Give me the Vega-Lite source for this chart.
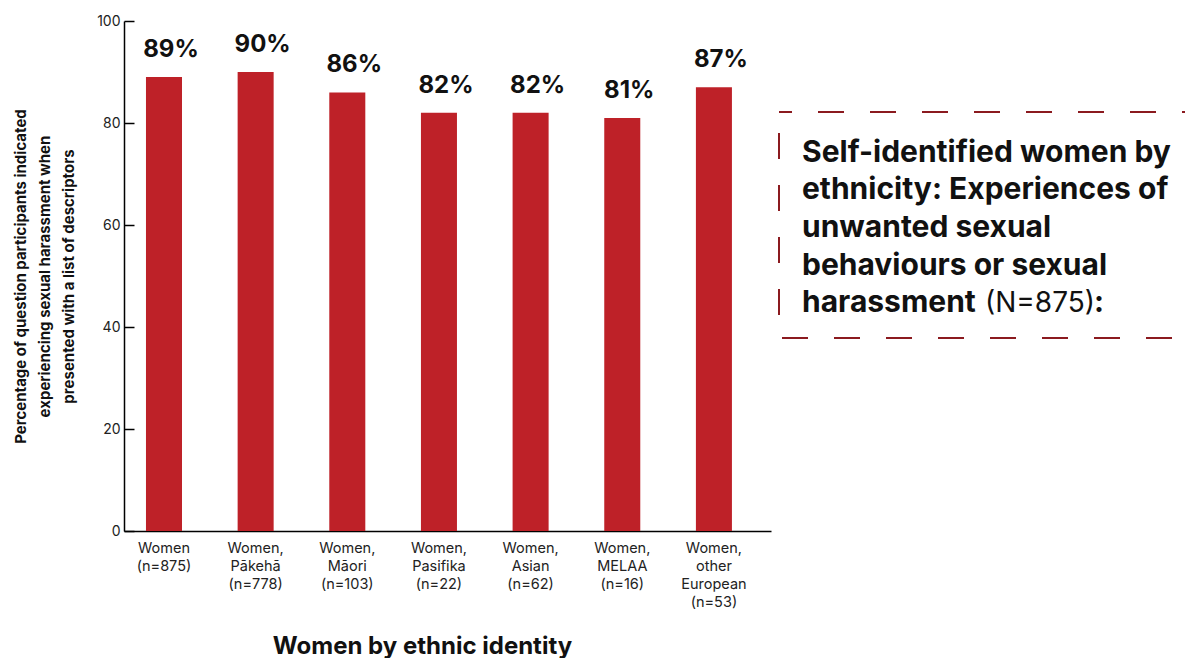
{
  "$schema": "https://vega.github.io/schema/vega-lite/v6.json",
  "padding": {"left": 13, "top": 14, "right": 0, "bottom": 0},
  "background": "white",
  "config": {
    "font": "Inter",
    "view": {"stroke": null},
    "concat": {"spacing": 7},
    "axis": {"domainColor": "#000", "domainWidth": 1.5, "tickColor": "#000", "tickWidth": 1.5, "labelColor": "#222", "titleColor": "#111", "grid": false}
  },
  "hconcat": [
    {
      "width": 647,
      "height": 510,
      "data": {"values": [
        {"group": "Women|(n=875)", "pct": 89},
        {"group": "Women,|Pākehā|(n=778)", "pct": 90},
        {"group": "Women,|Māori|(n=103)", "pct": 86},
        {"group": "Women,|Pasifika|(n=22)", "pct": 82},
        {"group": "Women,|Asian|(n=62)", "pct": 82},
        {"group": "Women,|MELAA|(n=16)", "pct": 81},
        {"group": "Women,|other|European|(n=53)", "pct": 87}
      ]},
      "transform": [{"calculate": "datum.pct + '%'", "as": "pct_label"}],
      "encoding": {
        "x": {
          "field": "group", "type": "nominal", "sort": null,
          "scale": {"paddingInner": 0.607, "paddingOuter": 0.333, "align": 0.36},
          "axis": {
            "title": "Women by ethnic identity",
            "titleFontSize": 24, "titleFontWeight": "bold", "titlePadding": 26,
            "titleX": 298, "titleAlign": "center",
            "labelExpr": "split(datum.label, '|')",
            "labelAngle": 0, "labelFontSize": 14.5, "labelLineHeight": 18,
            "labelPadding": 10, "ticks": false
          }
        },
        "y": {
          "field": "pct", "type": "quantitative",
          "scale": {"domain": [0, 100]},
          "axis": {
            "values": [0, 20, 40, 60, 80, 100],
            "title": ["Percentage of question participants indicated", "experiencing sexual harassment when", "presented with a list of descriptors"],
            "titleFontSize": 15, "titleFontWeight": "bold", "titleLineHeight": 24, "titlePadding": 20,
            "labelFontSize": 14, "tickSize": -10, "labelPadding": 14
          }
        }
      },
      "layer": [
        {"mark": {"type": "bar", "color": "#BE2128"}},
        {
          "mark": {"type": "text", "baseline": "alphabetic", "dy": -20, "dx": 7, "fontSize": 24, "fontWeight": "bold", "color": "#111"},
          "encoding": {"text": {"field": "pct_label"}}
        }
      ]
    },
    {
      "spacing": 10,
      "vconcat": [
        {
          "width": 415,
          "height": 80,
          "data": {"values": [{"blank": ""}]},
          "mark": {"type": "text"},
          "encoding": {"text": {"field": "blank"}}
        },
        {
          "width": 415,
          "height": 226,
          "view": {"stroke": "#8B1A1F", "strokeWidth": 2, "strokeDash": [26, 26], "strokeDashOffset": 13},
          "data": {"values": [
            {"line": 1, "text": "Self-identified women by", "part": "bold"},
            {"line": 2, "text": "ethnicity: Experiences of", "part": "bold"},
            {"line": 3, "text": "unwanted sexual", "part": "bold"},
            {"line": 4, "text": "behaviours or sexual", "part": "bold"},
            {"line": 5, "text": "harassment", "part": "bold"},
            {"line": 5, "text": "(N=875)", "part": "n"},
            {"line": 5, "text": ":", "part": "colon"}
          ]},
          "encoding": {
            "y": {"field": "line", "type": "quantitative", "scale": {"domain": [-0.333, 5.693], "reverse": true}, "axis": null},
            "text": {"field": "text"}
          },
          "layer": [
            {
              "transform": [{"filter": "datum.part == 'bold'"}],
              "mark": {"type": "text", "align": "left", "baseline": "alphabetic", "fontSize": 30, "fontWeight": "bold", "color": "#111"},
              "encoding": {"x": {"value": 23}}
            },
            {
              "transform": [{"filter": "datum.part == 'n'"}],
              "mark": {"type": "text", "align": "left", "baseline": "alphabetic", "fontSize": 28, "fontWeight": "normal", "color": "#111"},
              "encoding": {"x": {"value": 206}}
            },
            {
              "transform": [{"filter": "datum.part == 'colon'"}],
              "mark": {"type": "text", "align": "left", "baseline": "alphabetic", "fontSize": 30, "fontWeight": "bold", "color": "#111"},
              "encoding": {"x": {"value": 315}}
            }
          ]
        }
      ]
    }
  ]
}
